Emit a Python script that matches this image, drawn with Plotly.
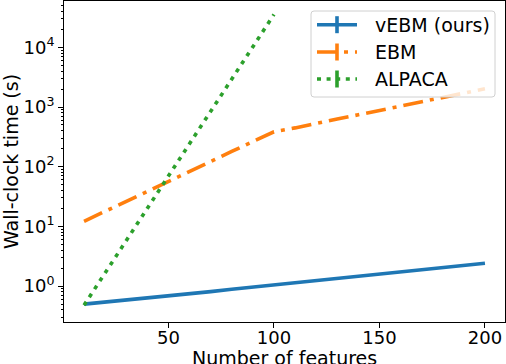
import plotly.graph_objects as go

# feature counts used in the timing sweep
features = [10, 20, 30, 40, 50, 60, 70, 80, 90, 100,
            110, 120, 130, 140, 150, 160, 170, 180, 190, 200]
alpaca_features = [10, 20, 30, 40, 50, 60, 70, 80, 90, 100]

# wall-clock times (s)
vebm_time = [0.50, 0.54, 0.59, 0.64, 0.70, 0.76, 0.81, 0.89, 0.97, 1.05,
             1.15, 1.24, 1.35, 1.47, 1.60, 1.74, 1.89, 2.05, 2.23, 2.42]
ebm_time = [12.2, 18.0, 26.3, 38.9, 56.9, 83.2, 123, 180, 263, 385,
            447, 537, 631, 741, 871, 1023, 1202, 1445, 1698, 2018]
alpaca_time = [0.48, 1.66, 5.78, 20.1, 69.8, 243, 843, 2930, 10190, 35400]

series_names = ["vEBM (ours)", "EBM", "ALPACA"]
colors = ["#1f77b4", "#ff7f0e", "#2ca02c"]
dashes = ["solid", "20px,7px,4px,7px", "4px,5.6px"]

FONT = "DejaVu Sans"
W, H = 506, 364
L, R, T, B = 64, 1, 1, 42

fig = go.Figure()
for xs, ys, name, c, d in zip([features, features, alpaca_features],
                              [vebm_time, ebm_time, alpaca_time],
                              series_names, colors, dashes):
    fig.add_trace(go.Scatter(x=xs, y=ys, mode="lines", name=name,
                             line=dict(color=c, width=3.6, dash=d),
                             showlegend=False, hoverinfo="skip"))

# y tick labels as powers of ten
yt_vals = [1, 10, 100, 1000, 10000]
yt_text = ["10<sup>%d</sup>" % i for i in range(5)]
minor_vals = [k * 10 ** n for n in range(-1, 5) for k in range(2, 10)]

axis_common = dict(
    showgrid=False, zeroline=False, showline=True, linecolor="black",
    linewidth=1, mirror=True, ticks="outside", ticklen=5, tickwidth=1,
    tickcolor="black", tickfont=dict(family=FONT, size=18, color="black"),
    automargin=False,
)
fig.update_layout(
    width=W, height=H,
    margin=dict(l=L, r=R, t=T, b=B),
    paper_bgcolor="white", plot_bgcolor="white",
    xaxis=dict(range=[0.5, 209.5], tickvals=[50, 100, 150, 200],
               ticklabelstandoff=-6, **axis_common),
    yaxis=dict(type="log", range=[-0.60, 4.775],
               tickvals=yt_vals, ticktext=yt_text,
               minor=dict(tickvals=minor_vals, ticks="outside", ticklen=2.5,
                          tickwidth=0.8, tickcolor="black"),
               title=dict(text="Wall-clock time (s)", standoff=8,
                          font=dict(family=FONT, size=19, color="black")),
               **axis_common),
)

# legend drawn by hand so the error-bar style tick can be shown
pw, ph = W - L - R, H - T - B
def px(x):
    return (x - L) / pw
def py(y):
    return (H - B - y) / ph

# x title sits low and runs off the bottom edge, as in the original
fig.add_annotation(x=0.5, y=py(345), xref="paper", yref="paper",
                   text="Number of features", showarrow=False,
                   xanchor="center", yanchor="top",
                   font=dict(family=FONT, size=19, color="black"))

bx0, bx1, by0, by1 = px(311), px(495), py(97), py(11)
rx, ry = 3 / pw, 3 / ph
path = (f"M {bx0+rx},{by0} L {bx1-rx},{by0} Q {bx1},{by0} {bx1},{by0+ry} "
        f"L {bx1},{by1-ry} Q {bx1},{by1} {bx1-rx},{by1} "
        f"L {bx0+rx},{by1} Q {bx0},{by1} {bx0},{by1-ry} "
        f"L {bx0},{by0+ry} Q {bx0},{by0} {bx0+rx},{by0} Z")
fig.add_shape(type="path", path=path, xref="paper", yref="paper",
              line=dict(color="#d0d0d0", width=1),
              fillcolor="rgba(255,255,255,0.8)")

rows_y = [24.7, 52, 79]
for name, c, d, ry_ in zip(series_names, colors, dashes, rows_y):
    fig.add_shape(type="line", xref="paper", yref="paper",
                  x0=px(317), x1=px(357), y0=py(ry_), y1=py(ry_),
                  line=dict(color=c, width=3.6, dash=d))
    fig.add_shape(type="line", xref="paper", yref="paper",
                  x0=px(337), x1=px(337), y0=py(ry_ - 8.5), y1=py(ry_ + 8.5),
                  line=dict(color=c, width=3.6))
    fig.add_annotation(x=px(373), y=py(ry_), xref="paper", yref="paper",
                       text=name, showarrow=False, xanchor="left",
                       yanchor="middle",
                       font=dict(family=FONT, size=19, color="black"))

# page body has a default margin that would push the figure off-frame
fig.write_html("out.html", config={"displayModeBar": False},
               post_script="document.body.style.margin='0';"
                           "document.body.style.overflow='hidden';")
